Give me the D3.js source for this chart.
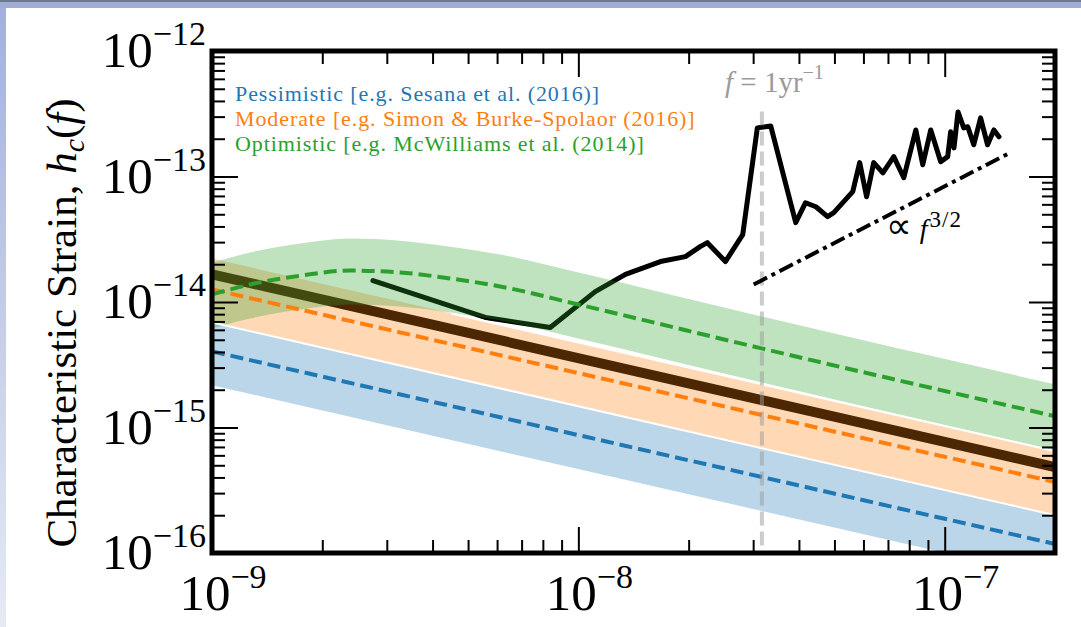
<!DOCTYPE html>
<html lang="en">
<head>
<meta charset="utf-8">
<title>Characteristic Strain</title>
<script src="https://d3js.org/d3.v7.js"></script>
<style>
  body { margin: 0; background: #fff; overflow: hidden; }
  text { font-family: "Liberation Serif", "DejaVu Serif", serif; }
</style>
</head>
<body>
<script>
// ---- data ----
// straight power-law lines: values at the two ends of the frequency range
var lineFreq = [1e-9, 2e-7];
var hcMedian = [1.66e-14, 4.84e-16];          // thick black line
var pessMedian = [4.04e-15, 1.18e-16];
var pessUpper = [6.87e-15, 2.0e-16];
var pessLower = [2.17e-15, 6.33e-17];
var modMedian = [1.26e-14, 3.68e-16];
var modUpper = [2.22e-14, 6.47e-16];
var modLower = [6.87e-15, 2.0e-16];

// where the optimistic band stops overlapping the moderate one
var seamFreq = [4.5e-9, 2e-7];
var seamHc = [8.1e-15, 6.47e-16];

// optimistic model with low-frequency turnover
var optFreq = [1e-9, 1.27e-9, 1.74e-9, 2.38e-9, 3.26e-9, 4.47e-9, 6.12e-9, 1e-8, 3.16e-8, 2e-7];
var optMedian = [1.15e-14, 1.38e-14, 1.62e-14, 1.78e-14, 1.72e-14, 1.54e-14, 1.33e-14, 9.55e-15, 4.27e-15, 1.23e-15];
var optUpper = [2.06e-14, 2.48e-14, 2.92e-14, 3.2e-14, 3.08e-14, 2.76e-14, 2.39e-14, 1.72e-14, 7.67e-15, 2.21e-15];
var optLower = [6.15e-15, 7.39e-15, 8.71e-15, 9.55e-15, 9.2e-15, 8.25e-15, 7.13e-15, 5.13e-15, 2.29e-15, 6.59e-16];

// sensitivity curve
var noiseFreq = [2.75e-9, 5.57e-9, 8.38e-9, 1.112e-8, 1.344e-8, 1.675e-8, 1.96e-8, 2.15e-8, 2.25e-8, 2.52e-8,
  2.81e-8, 3.08e-8, 3.35e-8, 3.92e-8, 4.17e-8, 4.45e-8, 4.79e-8, 4.98e-8, 5.61e-8, 5.86e-8,
  6.12e-8, 6.40e-8, 6.78e-8, 7.26e-8, 7.73e-8, 8.34e-8, 8.71e-8, 9.16e-8, 9.75e-8, 1.019e-7,
  1.038e-7, 1.060e-7, 1.087e-7, 1.127e-7, 1.156e-7, 1.200e-7, 1.253e-7, 1.309e-7, 1.362e-7, 1.406e-7];
var noiseHc = [1.48e-14, 7.53e-15, 6.27e-15, 1.21e-14, 1.66e-14, 2.10e-14, 2.30e-14, 2.76e-14, 2.97e-14, 2.10e-14,
  3.44e-14, 2.44e-13, 2.53e-13, 4.29e-14, 6.18e-14, 5.74e-14, 4.79e-14, 5.15e-14, 7.57e-14, 1.29e-13,
  6.90e-14, 1.29e-13, 1.07e-13, 1.44e-13, 9.77e-14, 2.35e-13, 1.24e-13, 2.35e-13, 1.31e-13, 1.44e-13,
  2.27e-13, 1.69e-13, 3.27e-13, 2.44e-13, 2.49e-13, 1.79e-13, 2.93e-13, 1.79e-13, 2.35e-13, 2.07e-13];

// f^{3/2} guide line
var slopeFreq = [3.01e-8, 1.51e-7];
var slopeHc = [1.38e-14, 1.55e-13];

// f = 1/yr marker (top to bottom)
var fYear = 3.17e-8;
var fYearHc = [3.3e-13, 1e-16];

var xTickExps = [-9, -8, -7];
var yTickExps = [-12, -13, -14, -15, -16];
var legendNames = ["Pessimistic [e.g. Sesana et al. (2016)]",
  "Moderate [e.g. Simon & Burke-Spolaor (2016)]",
  "Optimistic [e.g. McWilliams et al. (2014)]"];
var legendColors = ["#1f77b4", "#ff7f0e", "#2ca02c"];

// ---- layout ----
var w = 1081, h = 627;
var pl = 212, pr = 1055, pt = 51, pb = 553;

var xScale = d3.scaleLog().domain([1e-9, 2e-7]).range([pl, pr]);
var yScale = d3.scaleLog().domain([1e-16, 1e-12]).range([pb, pt]);

var svg = d3.select("body").append("svg")
  .attr("width", w)
  .attr("height", h);

// slide edges
var defs = svg.append("defs");
var grad = defs.append("linearGradient").attr("id", "edge")
  .attr("x1", 0).attr("y1", 0).attr("x2", 0).attr("y2", 1);
grad.append("stop").attr("offset", "0%").attr("stop-color", "#a2b0da");
grad.append("stop").attr("offset", "100%").attr("stop-color", "#e6eaf5");
svg.append("rect").attr("x", 0).attr("y", 0).attr("width", 6).attr("height", h).attr("fill", "url(#edge)");
svg.append("rect").attr("x", 0).attr("y", 0).attr("width", w).attr("height", 8).attr("fill", "#a1acd6");
svg.append("rect").attr("x", 0).attr("y", 0).attr("width", w).attr("height", 2).attr("fill", "#6f7891");

defs.append("clipPath").attr("id", "plot")
  .append("rect").attr("x", pl).attr("y", pt).attr("width", pr - pl).attr("height", pb - pt);

var g = svg.append("g").attr("clip-path", "url(#plot)");

function pts(fs, hs) {
  return fs.map(function (f, i) { return [f, hs[i]]; });
}
var line = d3.line()
  .x(d => xScale(d[0]))
  .y(d => yScale(d[1]))
  .curve(d3.curveMonotoneX);
var straight = d3.line()
  .x(d => xScale(d[0]))
  .y(d => yScale(d[1]));
function band(fs, lo, hi) {
  return d3.area()
    .x(d => xScale(d[0]))
    .y0(d => yScale(d[1]))
    .y1(d => yScale(d[2]))
    .curve(d3.curveMonotoneX)(fs.map((f, i) => [f, lo[i], hi[i]]));
}

// lines that sit under the transparent bands
g.append("path").attr("d", straight(pts(lineFreq, hcMedian)))
  .attr("fill", "none").attr("stroke", "#000").attr("stroke-width", 10);

g.append("path").attr("d", straight(pts(noiseFreq, noiseHc)))
  .attr("fill", "none").attr("stroke", "#000").attr("stroke-width", 5)
  .attr("stroke-linejoin", "round").attr("stroke-linecap", "round");

// bands
g.append("path").attr("d", band(lineFreq, pessLower, pessUpper))
  .attr("fill", legendColors[0]).attr("fill-opacity", 0.3);
g.append("path").attr("d", band(lineFreq, modLower, modUpper))
  .attr("fill", legendColors[1]).attr("fill-opacity", 0.3);
g.append("path").attr("d", band(optFreq, optLower, optUpper))
  .attr("fill", legendColors[2]).attr("fill-opacity", 0.3);

// white seams between neighbouring bands
g.append("path").attr("d", straight(pts(lineFreq, modLower)))
  .attr("fill", "none").attr("stroke", "#fff").attr("stroke-width", 2);
g.append("path").attr("d", straight(pts(seamFreq, seamHc)))
  .attr("fill", "none").attr("stroke", "#fff").attr("stroke-width", 2);

// dashed medians
[[lineFreq, pessMedian, 0], [lineFreq, modMedian, 1], [optFreq, optMedian, 2]].forEach(function (s) {
  g.append("path").attr("d", line(pts(s[0], s[1])))
    .attr("fill", "none").attr("stroke", legendColors[s[2]])
    .attr("stroke-width", 4).attr("stroke-dasharray", "13,6");
});

// 1/yr marker
g.append("path").attr("d", d3.line()(fYearHc.map(v => [xScale(fYear), yScale(v)])))
  .attr("stroke", "#999").attr("stroke-opacity", 0.5)
  .attr("stroke-width", 4).attr("stroke-dasharray", "14,6");

// f^{3/2}
g.append("path").attr("d", straight(pts(slopeFreq, slopeHc)))
  .attr("fill", "none").attr("stroke", "#000")
  .attr("stroke-width", 4).attr("stroke-dasharray", "15,5,4,5");

// ---- axes: inward ticks on all four sides ----
function isDecade(v) {
  return Math.abs(Math.log10(v) - Math.round(Math.log10(v))) < 1e-6;
}
var minorX = xScale.ticks().filter(v => !isDecade(v));
var majorX = xTickExps.map(e => Math.pow(10, e));
var minorY = yScale.ticks().filter(v => !isDecade(v));
var majorY = yTickExps.map(e => Math.pow(10, e));

function ticks(axisFn, scale, vals, size, tx, ty) {
  var a = svg.append("g")
    .attr("transform", "translate(" + tx + "," + ty + ")")
    .call(axisFn(scale).tickValues(vals).tickSize(-size).tickFormat(""));
  a.select(".domain").remove();
  a.selectAll("line").attr("stroke", "#000").attr("stroke-width", 2);
}
ticks(d3.axisBottom, xScale, minorX, 13, 0, pb);
ticks(d3.axisBottom, xScale, majorX, 26, 0, pb);
ticks(d3.axisTop, xScale, minorX, 13, 0, pt);
ticks(d3.axisTop, xScale, majorX, 26, 0, pt);
ticks(d3.axisLeft, yScale, minorY, 13, pl, 0);
ticks(d3.axisLeft, yScale, majorY, 26, pl, 0);
ticks(d3.axisRight, yScale, minorY, 13, pr, 0);
ticks(d3.axisRight, yScale, majorY, 26, pr, 0);

svg.append("rect").attr("x", pl).attr("y", pt)
  .attr("width", pr - pl).attr("height", pb - pt)
  .attr("fill", "none").attr("stroke", "#000").attr("stroke-width", 5);

// tick labels
xTickExps.forEach(function (e) {
  var t = svg.append("text")
    .attr("x", xScale(Math.pow(10, e)) + 11).attr("y", 610)
    .attr("text-anchor", "middle").attr("font-size", 51);
  t.append("tspan").text("10");
  t.append("tspan").attr("font-size", 34).attr("dy", -22).text("\u2212" + (-e));
});
yTickExps.forEach(function (e) {
  var t = svg.append("text")
    .attr("x", 206).attr("y", yScale(Math.pow(10, e)) + 16)
    .attr("text-anchor", "end").attr("font-size", 51);
  t.append("tspan").text("10");
  t.append("tspan").attr("font-size", 34).attr("dy", -22).text("\u2212" + (-e));
});

// y axis title
var yt = svg.append("text")
  .attr("transform", "translate(76,323) rotate(-90)")
  .attr("text-anchor", "middle").attr("font-size", 43);
yt.append("tspan").text("Characteristic Strain, ");
yt.append("tspan").attr("font-style", "italic").text("h");
yt.append("tspan").attr("font-style", "italic").attr("font-size", 30).attr("dy", 8).text("c");
yt.append("tspan").attr("dy", -8).text("(");
yt.append("tspan").attr("font-style", "italic").text("f");
yt.append("tspan").text(")");

// legend
legendNames.forEach(function (name, i) {
  svg.append("text")
    .attr("x", 235).attr("y", 101 + i * 25)
    .attr("font-size", 22).attr("letter-spacing", 0.9)
    .attr("fill", legendColors[i])
    .text(name);
});

// annotations
var fy = svg.append("text").attr("x", 725).attr("y", 92)
  .attr("font-size", 29).attr("fill", "#9a9a9a");
fy.append("tspan").attr("font-style", "italic").text("f");
fy.append("tspan").text(" = 1yr");
fy.append("tspan").attr("font-size", 20).attr("dy", -13).text("\u22121");

var sl = svg.append("text").attr("x", 886).attr("y", 238)
  .attr("font-size", 28).attr("fill", "#000");
sl.append("tspan").attr("font-family", "DejaVu Sans").attr("font-size", 36).text("\u221D");
sl.append("tspan").attr("font-style", "italic").attr("dx", 8).text("f");
sl.append("tspan").attr("font-size", 23).attr("dy", -11).attr("dx", 2).attr("letter-spacing", 1).text("3/2");
</script>
</body>
</html>
